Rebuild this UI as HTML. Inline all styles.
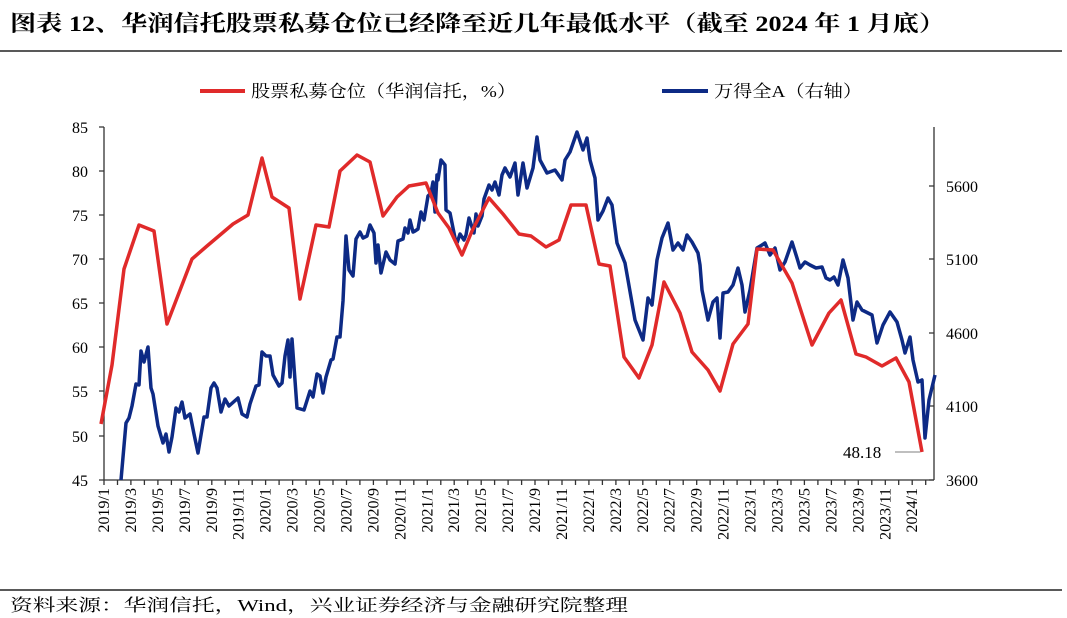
<!DOCTYPE html>
<html><head><meta charset="utf-8"><style>
body{margin:0;background:#fff;width:1067px;height:618px;overflow:hidden}
svg{display:block}
text{font-family:"Liberation Serif","Noto Serif CJK SC",serif;fill:#000}
</style></head><body>
<svg width="1067" height="618" viewBox="0 0 1067 618">
<text x="10" y="31" font-size="22" font-weight="bold" textLength="935" lengthAdjust="spacingAndGlyphs">图表 12、华润信托股票私募仓位已经降至近几年最低水平（截至 2024 年 1 月底）</text>
<line x1="0" y1="51" x2="1062" y2="51" stroke="#222" stroke-width="1.5"/>
<line x1="200" y1="91" x2="245" y2="91" stroke="#e02a2a" stroke-width="4"/>
<text x="251" y="97" font-size="17" textLength="265" lengthAdjust="spacingAndGlyphs">股票私募仓位（华润信托，%）</text>
<line x1="662" y1="91" x2="708" y2="91" stroke="#0d2a85" stroke-width="4"/>
<text x="714" y="97" font-size="17" textLength="148" lengthAdjust="spacingAndGlyphs">万得全A（右轴）</text>
<g stroke="#333" stroke-width="1.3" fill="none">
<line x1="104" y1="127" x2="104" y2="480"/>
<line x1="934" y1="127" x2="934" y2="480"/>
<line x1="104" y1="480" x2="934" y2="480"/>
<path d="M99 127H104M99 171H104M99 215H104M99 259H104M99 303H104M99 347H104M99 391H104M99 436H104M99 480H104"/>
<path d="M929 186H934M929 259H934M929 333H934M929 406H934M929 480H934"/>
<path id="xt"/>
</g>
<g font-size="16" text-anchor="end">
<text x="88" y="133">85</text><text x="88" y="177">80</text><text x="88" y="221">75</text><text x="88" y="265">70</text><text x="88" y="309">65</text><text x="88" y="353">60</text><text x="88" y="397">55</text><text x="88" y="442">50</text><text x="88" y="486">45</text>
</g>
<g font-size="16">
<text x="946" y="192">5600</text><text x="946" y="265">5100</text><text x="946" y="339">4600</text><text x="946" y="412">4100</text><text x="946" y="486">3600</text>
</g>
<g id="xl" font-size="16" text-anchor="end"></g>
<polyline fill="none" stroke="#0d2a85" stroke-width="3.5" stroke-linejoin="round" points="121,480 126,423 129,418 132,406 136,384 139,385 141,351 144,362 148,347 151,388 153,394 158,426 163,443 166,434 169,452 172,437 176,408 179,412 182,402 185,418 190,414 194,434 198,453 204,417 207,417 211,388 214,383 217,388 221,412 225,399 229,406 238,398 242,414 247,417 250,404 256,386 259,385 262,352 266,356 270,356 273,375 279,386 282,383 285,356 288,340 290,377 292,339 297,408 304,410 310,391 313,397 317,374 320,376 323,393 326,377 331,360 333,359 337,337 340,337 343,301 346,236 349,270 353,276 356,239 360,232 363,238 367,236 370,225 374,233 376,263 378,245 381,273 386,252 390,260 395,264 398,241 403,239 405,228 408,233 410,220 413,232 415,231 418,229 421,212 424,220 428,196 431,193 433,182 435,212 437,175 438,180 441,160 445,165 446,210 450,213 455,238 457,243 460,234 464,240 466,235 469,218 474,233 476,214 478,226 482,216 484,199 489,185 492,190 495,182 499,195 502,175 505,168 510,177 515,163 518,195 523,163 527,188 533,168 537,137 540,160 547,173 555,170 562,180 565,160 570,152 577,132 583,150 587,138 590,160 595,178 598,220 603,211 608,198 612,205 617,243 625,263 628,280 635,320 643,340 648,298 652,305 657,260 662,238 668,223 673,250 678,243 683,250 687,235 692,242 698,253 700,265 702,290 708,320 713,302 717,298 720,338 723,293 728,292 733,285 738,268 742,285 745,312 750,290 757,248 762,245 765,243 770,255 775,248 780,270 785,262 792,242 797,258 800,268 805,262 810,265 816,268 822,267 826,278 830,280 834,277 838,285 843,260 848,278 853,320 857,302 862,310 868,313 872,315 877,343 883,325 890,312 897,322 902,340 905,353 910,337 913,360 918,382 922,380 925,438 929,400 935,375"/>
<polyline fill="none" stroke="#e02a2a" stroke-width="3.5" stroke-linejoin="round" points="101,424 112,365 124,269 139,225 154,231 167,324 192,259 207,246 233,224 248,215 262,158 272,197 289,208 300,299 316,225 329,227 340,171 357,155 370,162 383,216 397,197 409,186 426,183 438,213 449,228 462,255 472,231 489,198 503,214 519,234 531,236 546,247 559,240 571,205 586,205 599,264 610,266 624,357 639,378 652,345 664,282 680,313 692,352 708,370 720,391 733,344 748,324 757,249 773,250 792,283 812,345 829,313 841,300 856,354 866,357 882,366 896,358 909,382 922,452"/>
<line x1="895" y1="452" x2="920" y2="452" stroke="#aaa" stroke-width="1.5"/>
<text x="843" y="458" font-size="17">48.18</text>
<line x1="0" y1="590" x2="1062" y2="590" stroke="#222" stroke-width="1.5"/>
<text x="10" y="611" font-size="17" textLength="618" lengthAdjust="spacingAndGlyphs">资料来源：华润信托，Wind，兴业证券经济与金融研究院整理</text>
</svg>
<script>
var d="",g=document.getElementById("xl"),s="";
for(var i=0;i<=61;i++){var x=104+i*13.47;d+="M"+x.toFixed(1)+" 480V485";}
document.getElementById("xt").setAttribute("d",d);
for(var k=0;k<=30;k++){var m=2*k,y=2019+Math.floor(m/12),mo=m%12+1,x=104+m*13.47+5;
s+='<text transform="translate('+x.toFixed(1)+',488) rotate(-90)">'+y+'/'+mo+'</text>';}
g.innerHTML=s;
</script>
</body></html>
